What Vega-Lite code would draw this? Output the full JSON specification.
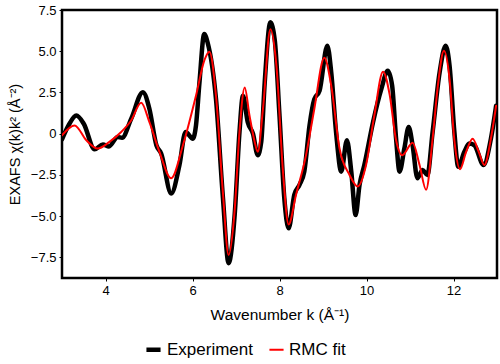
{
  "$schema": "https://vega.github.io/schema/vega-lite/v6.json",
  "width": 435,
  "height": 268,
  "autosize": {"type": "none"},
  "padding": {"left": 62, "top": 10, "right": 3, "bottom": 86},
  "background": "white",
  "data": {"values": [
    {"k": 3.0, "chi": -0.35, "series": "Experiment"},
    {"k": 3.15, "chi": 0.5, "series": "Experiment"},
    {"k": 3.33, "chi": 1.1, "series": "Experiment"},
    {"k": 3.5, "chi": 0.6, "series": "Experiment"},
    {"k": 3.75, "chi": -0.95, "series": "Experiment"},
    {"k": 3.94, "chi": -0.65, "series": "Experiment"},
    {"k": 4.08, "chi": -0.77, "series": "Experiment"},
    {"k": 4.28, "chi": -0.2, "series": "Experiment"},
    {"k": 4.38, "chi": -0.25, "series": "Experiment"},
    {"k": 4.59, "chi": 0.9, "series": "Experiment"},
    {"k": 4.86, "chi": 2.52, "series": "Experiment"},
    {"k": 5.01, "chi": 1.5, "series": "Experiment"},
    {"k": 5.17, "chi": -0.7, "series": "Experiment"},
    {"k": 5.28, "chi": -1.2, "series": "Experiment"},
    {"k": 5.51, "chi": -3.62, "series": "Experiment"},
    {"k": 5.70, "chi": -1.9, "series": "Experiment"},
    {"k": 5.84, "chi": 0.1, "series": "Experiment"},
    {"k": 6.01, "chi": -0.3, "series": "Experiment"},
    {"k": 6.08, "chi": 0.5, "series": "Experiment"},
    {"k": 6.16, "chi": 3.1, "series": "Experiment"},
    {"k": 6.27, "chi": 6.04, "series": "Experiment"},
    {"k": 6.35, "chi": 5.5, "series": "Experiment"},
    {"k": 6.54, "chi": 2.1, "series": "Experiment"},
    {"k": 6.70, "chi": -3.9, "series": "Experiment"},
    {"k": 6.83, "chi": -7.85, "series": "Experiment"},
    {"k": 6.97, "chi": -4.9, "series": "Experiment"},
    {"k": 7.08, "chi": 0.1, "series": "Experiment"},
    {"k": 7.16, "chi": 2.3, "series": "Experiment"},
    {"k": 7.27, "chi": 0.7, "series": "Experiment"},
    {"k": 7.39, "chi": 0.0, "series": "Experiment"},
    {"k": 7.50, "chi": -1.3, "series": "Experiment"},
    {"k": 7.58, "chi": -0.5, "series": "Experiment"},
    {"k": 7.66, "chi": 3.1, "series": "Experiment"},
    {"k": 7.79, "chi": 6.75, "series": "Experiment"},
    {"k": 7.89, "chi": 5.7, "series": "Experiment"},
    {"k": 8.0, "chi": 1.1, "series": "Experiment"},
    {"k": 8.11, "chi": -3.9, "series": "Experiment"},
    {"k": 8.21, "chi": -5.74, "series": "Experiment"},
    {"k": 8.34, "chi": -3.7, "series": "Experiment"},
    {"k": 8.46, "chi": -3.1, "series": "Experiment"},
    {"k": 8.57, "chi": -2.3, "series": "Experiment"},
    {"k": 8.69, "chi": 0.5, "series": "Experiment"},
    {"k": 8.80, "chi": 2.1, "series": "Experiment"},
    {"k": 8.92, "chi": 2.6, "series": "Experiment"},
    {"k": 9.10, "chi": 5.33, "series": "Experiment"},
    {"k": 9.19, "chi": 3.7, "series": "Experiment"},
    {"k": 9.30, "chi": 0.1, "series": "Experiment"},
    {"k": 9.42, "chi": -2.3, "series": "Experiment"},
    {"k": 9.55, "chi": -0.4, "series": "Experiment"},
    {"k": 9.65, "chi": -2.3, "series": "Experiment"},
    {"k": 9.75, "chi": -4.93, "series": "Experiment"},
    {"k": 9.84, "chi": -3.1, "series": "Experiment"},
    {"k": 9.95, "chi": -1.9, "series": "Experiment"},
    {"k": 10.15, "chi": 0.7, "series": "Experiment"},
    {"k": 10.34, "chi": 2.7, "series": "Experiment"},
    {"k": 10.49, "chi": 3.82, "series": "Experiment"},
    {"k": 10.59, "chi": 2.9, "series": "Experiment"},
    {"k": 10.68, "chi": -0.3, "series": "Experiment"},
    {"k": 10.76, "chi": -2.3, "series": "Experiment"},
    {"k": 10.87, "chi": -0.9, "series": "Experiment"},
    {"k": 10.97, "chi": 0.4, "series": "Experiment"},
    {"k": 11.06, "chi": -0.7, "series": "Experiment"},
    {"k": 11.17, "chi": -2.7, "series": "Experiment"},
    {"k": 11.29, "chi": -2.2, "series": "Experiment"},
    {"k": 11.40, "chi": -2.5, "series": "Experiment"},
    {"k": 11.52, "chi": 0.1, "series": "Experiment"},
    {"k": 11.68, "chi": 3.7, "series": "Experiment"},
    {"k": 11.82, "chi": 5.33, "series": "Experiment"},
    {"k": 11.91, "chi": 4.1, "series": "Experiment"},
    {"k": 12.02, "chi": 0.1, "series": "Experiment"},
    {"k": 12.11, "chi": -2.0, "series": "Experiment"},
    {"k": 12.25, "chi": -1.1, "series": "Experiment"},
    {"k": 12.36, "chi": -0.6, "series": "Experiment"},
    {"k": 12.48, "chi": -0.7, "series": "Experiment"},
    {"k": 12.69, "chi": -1.9, "series": "Experiment"},
    {"k": 12.86, "chi": -0.3, "series": "Experiment"},
    {"k": 12.98, "chi": 1.7, "series": "Experiment"},
    {"k": 3.0, "chi": -0.1, "series": "RMC fit"},
    {"k": 3.29, "chi": 0.5, "series": "RMC fit"},
    {"k": 3.56, "chi": -0.4, "series": "RMC fit"},
    {"k": 3.82, "chi": -0.9, "series": "RMC fit"},
    {"k": 4.09, "chi": -0.5, "series": "RMC fit"},
    {"k": 4.36, "chi": 0.1, "series": "RMC fit"},
    {"k": 4.59, "chi": 0.8, "series": "RMC fit"},
    {"k": 4.82, "chi": 1.87, "series": "RMC fit"},
    {"k": 5.01, "chi": 0.7, "series": "RMC fit"},
    {"k": 5.24, "chi": -1.1, "series": "RMC fit"},
    {"k": 5.51, "chi": -2.7, "series": "RMC fit"},
    {"k": 5.78, "chi": -0.7, "series": "RMC fit"},
    {"k": 6.08, "chi": 2.3, "series": "RMC fit"},
    {"k": 6.28, "chi": 4.5, "series": "RMC fit"},
    {"k": 6.39, "chi": 4.97, "series": "RMC fit"},
    {"k": 6.54, "chi": 2.3, "series": "RMC fit"},
    {"k": 6.70, "chi": -3.6, "series": "RMC fit"},
    {"k": 6.83, "chi": -7.35, "series": "RMC fit"},
    {"k": 6.97, "chi": -4.6, "series": "RMC fit"},
    {"k": 7.08, "chi": 0.1, "series": "RMC fit"},
    {"k": 7.20, "chi": 2.8, "series": "RMC fit"},
    {"k": 7.31, "chi": 1.1, "series": "RMC fit"},
    {"k": 7.43, "chi": -0.5, "series": "RMC fit"},
    {"k": 7.50, "chi": -1.1, "series": "RMC fit"},
    {"k": 7.62, "chi": 1.5, "series": "RMC fit"},
    {"k": 7.79, "chi": 6.34, "series": "RMC fit"},
    {"k": 7.93, "chi": 4.1, "series": "RMC fit"},
    {"k": 8.08, "chi": -2.3, "series": "RMC fit"},
    {"k": 8.21, "chi": -5.5, "series": "RMC fit"},
    {"k": 8.38, "chi": -3.7, "series": "RMC fit"},
    {"k": 8.61, "chi": -1.3, "series": "RMC fit"},
    {"k": 8.80, "chi": 1.5, "series": "RMC fit"},
    {"k": 9.03, "chi": 4.6, "series": "RMC fit"},
    {"k": 9.19, "chi": 2.9, "series": "RMC fit"},
    {"k": 9.38, "chi": -0.9, "series": "RMC fit"},
    {"k": 9.61, "chi": -2.5, "series": "RMC fit"},
    {"k": 9.80, "chi": -3.2, "series": "RMC fit"},
    {"k": 9.99, "chi": -1.9, "series": "RMC fit"},
    {"k": 10.18, "chi": 1.1, "series": "RMC fit"},
    {"k": 10.38, "chi": 3.76, "series": "RMC fit"},
    {"k": 10.53, "chi": 2.4, "series": "RMC fit"},
    {"k": 10.68, "chi": -0.4, "series": "RMC fit"},
    {"k": 10.82, "chi": -1.3, "series": "RMC fit"},
    {"k": 11.06, "chi": -0.55, "series": "RMC fit"},
    {"k": 11.22, "chi": -1.9, "series": "RMC fit"},
    {"k": 11.37, "chi": -3.4, "series": "RMC fit"},
    {"k": 11.52, "chi": -0.3, "series": "RMC fit"},
    {"k": 11.64, "chi": 2.9, "series": "RMC fit"},
    {"k": 11.78, "chi": 5.03, "series": "RMC fit"},
    {"k": 11.91, "chi": 3.3, "series": "RMC fit"},
    {"k": 12.02, "chi": -0.4, "series": "RMC fit"},
    {"k": 12.15, "chi": -2.15, "series": "RMC fit"},
    {"k": 12.29, "chi": -1.1, "series": "RMC fit"},
    {"k": 12.44, "chi": -0.3, "series": "RMC fit"},
    {"k": 12.58, "chi": -1.1, "series": "RMC fit"},
    {"k": 12.71, "chi": -1.9, "series": "RMC fit"},
    {"k": 12.86, "chi": -0.3, "series": "RMC fit"},
    {"k": 12.98, "chi": 1.7, "series": "RMC fit"}
  ]},
  "mark": {"type": "line", "interpolate": "monotone", "clip": true, "strokeJoin": "round", "strokeCap": "round"},
  "encoding": {
    "x": {
      "field": "k", "type": "quantitative",
      "scale": {"domain": [3, 13], "nice": false, "zero": false},
      "axis": {"values": [4, 6, 8, 10, 12], "title": "Wavenumber k (Å⁻¹)", "format": "d", "titleFontSize": 15.5, "titlePadding": 10}
    },
    "y": {
      "field": "chi", "type": "quantitative",
      "scale": {"domain": [-8.75, 7.5], "nice": false, "zero": false},
      "axis": {"values": [-7.5, -5, -2.5, 0, 2.5, 5, 7.5], "title": "EXAFS χ(k)k² (Å⁻²)",
        "labelExpr": "datum.value == 0 ? '0' : format(datum.value, '.1f')"}
    },
    "color": {
      "field": "series", "type": "nominal",
      "scale": {"domain": ["Experiment", "RMC fit"], "range": ["#000000", "#ff0000"]},
      "legend": {"title": null, "orient": "none", "legendX": 82, "legendY": 330, "direction": "horizontal"}
    },
    "strokeWidth": {
      "field": "series", "type": "nominal",
      "scale": {"domain": ["Experiment", "RMC fit"], "range": [4.5, 2]},
      "legend": {"title": null, "orient": "none", "legendX": 82, "legendY": 330, "direction": "horizontal"}
    },
    "order": {"field": "series", "type": "nominal"}
  },
  "config": {
    "font": "Liberation Sans",
    "view": {"stroke": "#000000", "strokeWidth": 2.5},
    "axis": {
      "grid": false, "domain": false,
      "ticks": true, "tickColor": "#000000", "tickSize": 3, "tickWidth": 1,
      "labelFont": "Liberation Sans", "labelFontSize": 13, "labelColor": "#000000", "labelPadding": 3,
      "titleFont": "Liberation Sans", "titleFontSize": 14.5, "titleFontWeight": "normal", "titleColor": "#000000"
    },
    "axisY": {"titlePadding": 8},
    "legend": {
      "symbolType": "stroke", "symbolSize": 200, "labelFont": "Liberation Sans", "labelFontSize": 17,
      "labelColor": "#000000", "columnPadding": 12, "symbolStrokeWidth": 4
    }
  }
}
